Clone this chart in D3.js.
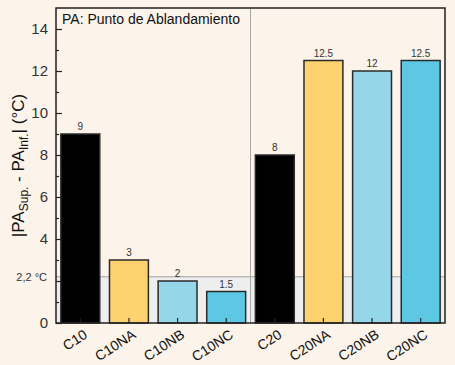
<!DOCTYPE html>
<html>
<head>
<meta charset="utf-8">
<script src="https://cdn.jsdelivr.net/npm/d3@7"></script>
<style>
  body { margin: 0; background: #fcf4ea; }
  text { font-family: "Liberation Sans", Arial, sans-serif; }
</style>
</head>
<body>
<svg id="chart" width="455" height="365"></svg>
<script>
const categories = ['C10', 'C10NA', 'C10NB', 'C10NC', 'C20', 'C20NA', 'C20NB', 'C20NC'];
const values = [9, 3, 2, 1.5, 8, 12.5, 12, 12.5];
const valueLabels = ['9', '3', '2', '1.5', '8', '12.5', '12', '12.5'];
const barColors = ['#000000', '#fdd26f', '#95d6e9', '#5ec8e4', '#000000', '#fdd26f', '#95d6e9', '#5ec8e4'];
const yTicks = [0, 2, 4, 6, 8, 10, 12, 14];
const yMinorTicks = [1, 3, 5, 7, 9, 11, 13];
const threshold = 2.2;

const margin = { top: 8, right: 10, bottom: 42, left: 56 };
const width = 455 - margin.left - margin.right;
const height = 365 - margin.top - margin.bottom;

const svg = d3.select('#chart');
const g = svg.append('g').attr('transform', `translate(${margin.left},${margin.top})`);

const x = d3.scaleBand().domain(categories).range([0, width]).paddingInner(0.2).paddingOuter(0.1);
const y = d3.scaleLinear().domain([0, 15]).range([height, 0]);

// gray band under threshold
g.append('rect')
    .attr('x', 0).attr('y', y(threshold))
    .attr('width', width).attr('height', y(0) - y(threshold))
    .attr('fill', '#eeeeee');
g.append('line')
    .attr('x1', 0).attr('x2', width)
    .attr('y1', y(threshold)).attr('y2', y(threshold))
    .attr('stroke', '#a0a0a0').attr('stroke-width', 1);

// divider between groups
const divX = (x('C10NC') + x.bandwidth() + x('C20')) / 2;
g.append('line')
    .attr('x1', divX).attr('x2', divX)
    .attr('y1', 0).attr('y2', height)
    .attr('stroke', '#a8a8a8').attr('stroke-width', 1);

// bars
g.selectAll('.bar')
    .data(categories)
    .enter().append('rect')
    .attr('class', 'bar')
    .attr('x', d => x(d))
    .attr('y', (d, i) => y(values[i]))
    .attr('width', x.bandwidth())
    .attr('height', (d, i) => y(0) - y(values[i]))
    .attr('fill', (d, i) => barColors[i])
    .attr('stroke', '#2a2a2a')
    .attr('stroke-width', 1.5);

// value labels
g.selectAll('.vlabel')
    .data(categories)
    .enter().append('text')
    .attr('x', d => x(d) + x.bandwidth() / 2)
    .attr('y', (d, i) => y(values[i]) - 4)
    .attr('text-anchor', 'middle')
    .attr('font-size', '10px')
    .attr('fill', '#333')
    .text((d, i) => valueLabels[i]);

// y axis (the "2" label is replaced by the 2,2 °C marker)
const yAxis = g.append('g')
    .call(d3.axisLeft(y).tickValues(yTicks).tickSize(-6).tickPadding(8)
        .tickFormat(d => d === 2 ? '' : d3.format('d')(d)));
yAxis.select('.domain').remove();
yAxis.selectAll('text').attr('font-size', '15px').attr('fill', '#333');
yAxis.selectAll('line').attr('stroke', '#222').attr('stroke-width', 1.2);

const yMinor = g.append('g')
    .call(d3.axisLeft(y).tickValues(yMinorTicks).tickSize(-3).tickFormat(''));
yMinor.select('.domain').remove();
yMinor.selectAll('line').attr('stroke', '#222').attr('stroke-width', 1.2);

// x axis
const xAxis = g.append('g')
    .attr('transform', `translate(0,${height})`)
    .call(d3.axisBottom(x).tickSize(-5));
xAxis.select('.domain').remove();
xAxis.selectAll('line').attr('stroke', '#222').attr('stroke-width', 1.2);
xAxis.selectAll('text')
    .attr('font-size', '14px')
    .attr('fill', '#111')
    .attr('text-anchor', 'end')
    .attr('x', 0).attr('y', 0).attr('dy', 0)
    .attr('transform', 'translate(8,14) rotate(-33)');

// frame
g.append('rect')
    .attr('x', 0).attr('y', 0)
    .attr('width', width).attr('height', height)
    .attr('fill', 'none')
    .attr('stroke', '#222').attr('stroke-width', 1.5);

// threshold label
g.append('text')
    .attr('x', -9).attr('y', y(threshold) + 4)
    .attr('text-anchor', 'end')
    .attr('font-size', '11px')
    .attr('fill', '#333')
    .text('2,2 °C');

// title inside frame
g.append('text')
    .attr('x', 6).attr('y', 16)
    .attr('font-size', '14px')
    .attr('fill', '#111')
    .text('PA: Punto de Ablandamiento');

// y axis title
const yt = svg.append('text')
    .attr('transform', `translate(24,${margin.top + height / 2}) rotate(-90)`)
    .attr('text-anchor', 'middle')
    .attr('font-size', '17px')
    .attr('fill', '#111');
yt.append('tspan').text('|PA');
yt.append('tspan').attr('font-size', '12px').attr('dy', '4').text('Sup.');
yt.append('tspan').attr('dy', '-4').text(' - PA');
yt.append('tspan').attr('font-size', '12px').attr('dy', '4').text('Inf.');
yt.append('tspan').attr('dy', '-4').text('| (°C)');
</script>
</body>
</html>
